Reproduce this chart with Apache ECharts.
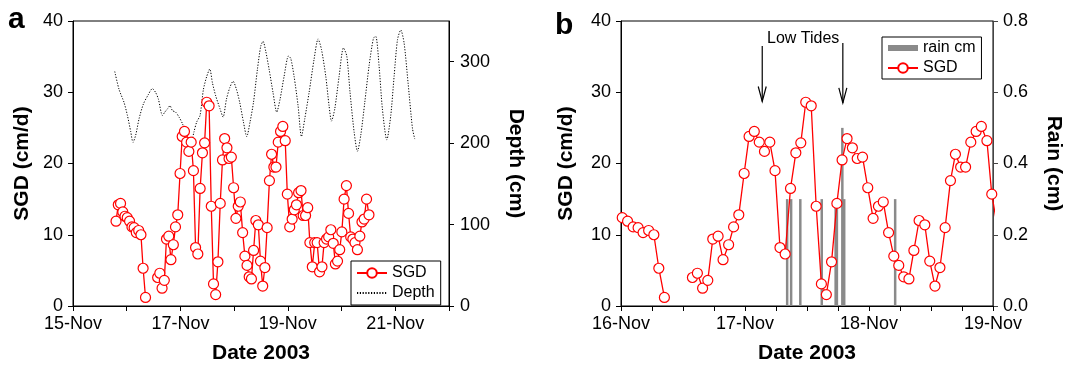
<!DOCTYPE html>
<html><head><meta charset="utf-8">
<script src="https://cdn.jsdelivr.net/npm/echarts/dist/echarts.min.js"></script>
<style>html,body{margin:0;padding:0;background:#fff}#c{width:1065px;height:369px}</style>
</head><body><div id="c"></div>
<script>
const FONT = '"Liberation Sans", Arial, Helvetica, sans-serif';

// SGD (cm/d), hourly, day of November 2003 (null = gap)
const sgdDay = [15.801,15.843,15.885,15.927,15.968,
16.01,16.053,16.098,16.138,16.178,16.223,16.265,16.305,16.35,16.46,
16.576,16.616,16.658,16.70,16.74,16.783,16.823,16.868,16.908,16.95,16.993,
17.033,17.075,17.115,17.157,17.20,17.242,17.282,17.324,17.367,17.41,17.45,17.49,17.534,17.574,17.616,17.656,17.698,17.741,17.783,17.823,17.866,17.905,17.948,17.99,
18.033,18.076,18.115,18.158,18.20,18.24,18.28,18.322,18.362,18.404,18.45,18.49,18.532,18.572,18.614,18.657,18.697,18.739,18.779,18.821,18.864,18.906,18.951,18.99,
19.035,19.08,19.12,19.16,19.2,19.245,19.285,19.33,19.37,19.41,19.455,19.5,19.545,19.59,19.635,19.675,19.72,19.76,19.8,19.845,19.885,19.925,19.965,
20.005,20.047,20.09,20.13,20.17,20.21,20.25,20.295,20.34,20.38,20.42,20.465,20.51];
const sgdValue = [11.9,14.2,14.4,13.2,12.6,
12.4,11.9,11.1,11.0,10.3,10.6,10.0,5.3,1.2,null,
4.0,4.6,2.5,3.6,9.4,9.8,6.5,8.6,11.1,12.8,18.6,
23.8,24.5,23.0,21.7,23.0,19.0,8.2,7.3,16.5,21.5,22.9,28.6,28.1,14.0,3.1,1.6,6.2,14.4,20.5,23.5,22.2,20.7,20.9,16.6,
12.3,14.0,14.6,10.3,7.0,5.7,4.1,3.8,7.8,12.0,11.4,6.3,2.8,5.4,11.0,17.6,21.3,19.5,19.5,23.0,24.5,25.2,23.2,15.7,
11.1,12.2,13.5,14.2,15.9,16.2,12.7,12.7,13.8,8.9,5.5,8.9,8.9,4.8,5.5,8.9,9.4,9.7,10.7,8.8,5.9,6.3,7.9,
10.4,15.0,16.9,13.0,9.7,9.4,8.9,7.9,9.8,11.8,12.2,15.0,12.8];

// Water depth (cm)
const depthDay = [15.777,15.857,15.95,16.013,16.075,16.117,16.168,16.23,16.31,16.397,16.478,16.54,16.59,16.665,16.708,16.758,16.806,16.85,16.912,16.974,
17.037,17.099,17.16,17.205,17.253,17.303,17.365,17.428,17.49,17.546,17.596,17.657,17.738,17.794,17.857,17.918,17.98,
18.043,18.104,18.173,18.235,18.296,18.36,18.434,18.495,18.538,18.588,18.65,18.724,18.793,18.855,18.93,
19.011,19.054,19.116,19.19,19.253,19.315,19.395,19.488,19.563,19.626,19.706,19.767,19.812,19.873,19.954,
20.035,20.097,20.158,20.233,20.296,20.358,20.432,20.512,20.594,20.637,20.698,20.76,20.842,20.916,20.978,
21.041,21.102,21.164,21.238,21.32,21.363];
const depthCm = [288,266,250,234,214,201,210,230,248,259,267,262,254,234,238,242,246,240,238,232,
224,212,188,200,214,226,234,266,282,291,274,258,242,232,254,268,276,
266,250,226,208,226,250,291,319,325,313,291,262,238,254,282,
307,304,282,246,208,230,262,303,328,315,282,246,227,242,282,
317,307,262,214,190,210,250,295,329,331,295,242,204,234,282,
327,339,323,274,218,205];

// Rain (cm)
const rainDay = [17.34,17.372,17.446,17.619,17.731,17.741,17.785,17.80,18.211];
const rainCm  = [0.3,0.3,0.3,0.3,0.3,0.3,0.5,0.3,0.3];

// Low tide annotations (panel b)
const lowTideDay = [17.139, 17.789];
const lowTideArrowTop = [36.5, 36.9];
const lowTideArrowTip = [28.7, 28.5];
const lowTideLabel = {day: 17.469, sgd: 37.55, text: 'Low Tides'};

const depthTicks = [0, 100, 200, 300];

const sgdData = sgdDay.map((d, i) => [d, sgdValue[i] === null ? '-' : sgdValue[i]]);
const depthData = depthDay.map((d, i) => [d, depthCm[i]]);
const rainData = rainDay.map((d, i) => [d, rainCm[i]]);

function ax(extra, color) {
  const c = color || '#000';
  const base = {
    type: 'value',
    axisLine: {show: true, onZero: false, lineStyle: {color: c, width: 1}},
    axisTick: {show: true, inside: false, length: 5, lineStyle: {color: c, width: 1}},
    axisLabel: {color: '#000', fontSize: 18, fontFamily: FONT},
    splitLine: {show: false},
    nameLocation: 'middle',
    nameTextStyle: {color: '#000', fontSize: 21, fontWeight: 'bold', fontFamily: FONT}
  };
  for (const k in extra) {
    if (typeof extra[k] === 'object' && !Array.isArray(extra[k]) && base[k]) base[k] = Object.assign({}, base[k], extra[k]);
    else base[k] = extra[k];
  }
  return base;
}

const chart = echarts.init(document.getElementById('c'), null, {renderer: 'canvas'});
const sgdStyle = {
  type: 'line', name: 'SGD', data: sgdData, symbol: 'circle', symbolSize: 10, showAllSymbol: true,
  itemStyle: {color: '#fff', borderColor: '#ff0000', borderWidth: 1.2},
  lineStyle: {color: '#ff0000', width: 1.3}, z: 4, clip: true
};

chart.setOption({
  animation: false,
  backgroundColor: '#fff',
  title: [
    {text: 'a', left: 8, top: 5, padding: 0, textStyle: {fontSize: 30, fontWeight: 'bold', color: '#000', fontFamily: FONT}},
    {text: 'b', left: 555, top: 11, padding: 0, textStyle: {fontSize: 30, fontWeight: 'bold', color: '#000', fontFamily: FONT}}
  ],
  grid: [
    {left: 73, top: 21, width: 376, height: 289, show: true, borderColor: '#000', borderWidth: 1, backgroundColor: 'rgba(0,0,0,0)'},
    {left: 621, top: 21, width: 377, height: 289, show: true, borderColor: '#000', borderWidth: 1, backgroundColor: 'rgba(0,0,0,0)'}
  ],
  xAxis: [
    ax({gridIndex: 0, min: 15, max: 22, interval: 1, name: 'Date 2003', nameGap: 37,
        axisLabel: {margin: 9, formatter: v => (v % 2 === 1 && v < 22) ? v + '-Nov' : ''}}),
    ax({gridIndex: 1, min: 16, max: 19, interval: 0.25, name: 'Date 2003', nameGap: 37,
        axisLabel: {margin: 9, formatter: v => Number.isInteger(v) ? v + '-Nov' : ''}})
  ],
  yAxis: [
    ax({gridIndex: 0, position: 'left', min: 0, max: 40, interval: 10, name: 'SGD (cm/d)', nameRotate: 90, nameGap: 40,
        axisLabel: {margin: 10}}),
    ax({gridIndex: 0, position: 'right', min: 0, max: 350, interval: 100, name: 'Depth (cm)', nameRotate: -90, nameGap: 56,
        axisTick: {customValues: depthTicks}, axisLabel: {margin: 11, customValues: depthTicks, formatter: v => v <= 300 ? String(v) : ''}}),
    ax({gridIndex: 1, position: 'left', min: 0, max: 40, interval: 10, name: 'SGD (cm/d)', nameRotate: 90, nameGap: 44,
        axisLabel: {margin: 10}}),
    ax({gridIndex: 1, position: 'right', min: 0, max: 0.8, interval: 0.2, name: 'Rain (cm)', nameRotate: -90, nameGap: 50,
        axisLabel: {margin: 10, formatter: v => v.toFixed(1)}}, '#444')
  ],
  legend: [
    {left: 351, top: 261, orient: 'vertical', padding: [4, 6, 4, 5], itemGap: 4, itemWidth: 30, itemHeight: 12,
     borderColor: '#000', borderWidth: 1, backgroundColor: '#fff',
     textStyle: {fontSize: 16, color: '#000', fontFamily: FONT},
     data: ['SGD', {name: 'Depth', itemStyle: {opacity: 0}}]},
    {left: 882, top: 37, orient: 'vertical', padding: [3, 6, 3, 5], itemGap: 4, itemWidth: 30, itemHeight: 12,
     borderColor: '#000', borderWidth: 1, backgroundColor: '#fff',
     textStyle: {fontSize: 16, color: '#000', fontFamily: FONT},
     data: [{name: 'rain cm', icon: 'path://M0,0L0,0M0,3L30,3L30,9L0,9ZM30,12L30,12'}, 'SGD']}
  ],
  series: [
    {type: 'line', name: 'Depth', xAxisIndex: 0, yAxisIndex: 1, data: depthData, symbol: 'none', smooth: 0.25,
     lineStyle: {color: '#000', width: 1, type: [1.2, 1.6]}, itemStyle: {color: '#000'}, z: 2},
    Object.assign({}, sgdStyle, {xAxisIndex: 0, yAxisIndex: 0}),
    {type: 'bar', name: 'rain cm', xAxisIndex: 1, yAxisIndex: 3, data: rainData, barWidth: 2.5,
     itemStyle: {color: '#8a8a8a'}, z: 2},
    Object.assign({}, sgdStyle, {xAxisIndex: 1, yAxisIndex: 2})
  ]
});

const toPx = (d, v) => chart.convertToPixel({xAxisIndex: 1, yAxisIndex: 2}, [d, v]);
const g = [];
lowTideDay.forEach((d, i) => {
  const a = toPx(d, lowTideArrowTop[i]);
  const b = toPx(d, lowTideArrowTip[i]);
  g.push({type: 'line', shape: {x1: a[0], y1: a[1], x2: b[0], y2: b[1]}, style: {stroke: '#000', lineWidth: 1.2}, z: 10});
  g.push({type: 'polyline', shape: {points: [[b[0] - 4, b[1] - 15], [b[0], b[1]], [b[0] + 4, b[1] - 15]]},
          style: {stroke: '#000', lineWidth: 1.2, fill: null}, z: 10});
});
const tp = toPx(lowTideLabel.day, lowTideLabel.sgd);
g.push({type: 'text', x: tp[0], y: tp[1], z: 10,
        style: {text: lowTideLabel.text, fontSize: 16, fontFamily: FONT, fill: '#000', align: 'center', verticalAlign: 'middle'}});
chart.setOption({graphic: g});
</script></body></html>
